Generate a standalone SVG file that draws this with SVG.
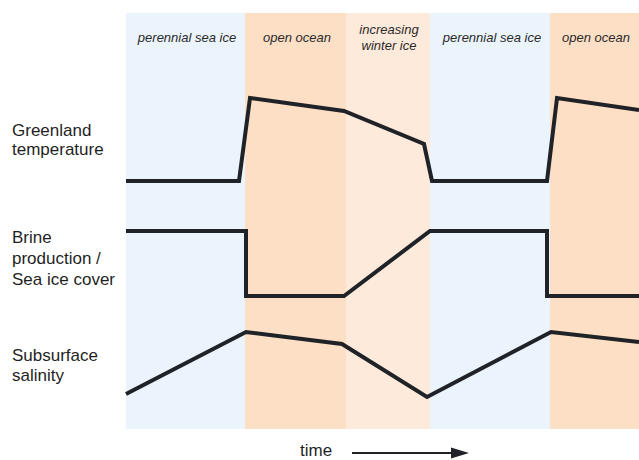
<svg xmlns="http://www.w3.org/2000/svg" width="639" height="460" viewBox="0 0 639 460">
<style>
.ice{fill:#EBF4FC}
.ocean{fill:#FDDFC6}
.winter{fill:#FEEADB}
.band{font-family:"Liberation Sans",Arial,sans-serif;font-style:italic;font-size:13px;fill:#2a2a2a;text-anchor:middle}
.lab{font-family:"Liberation Sans",Arial,sans-serif;font-size:17px;fill:#1f1f1f}
.curve{fill:none;stroke:#1f2328;stroke-width:4;stroke-linejoin:miter}
</style>
<defs>
<marker id="ah" markerWidth="18" markerHeight="12" refX="0" refY="6" orient="auto" markerUnits="userSpaceOnUse">
<polygon points="0,0.5 18,6 0,11.5" fill="#1f2328"/>
</marker>
</defs>
<rect width="639" height="460" fill="#fff"/>
<g id="bands">
<rect class="ice" x="126" y="13" width="119" height="416"/>
<rect class="ocean" x="245" y="13" width="101" height="416"/>
<rect class="winter" x="346" y="13" width="84" height="416"/>
<rect class="ice" x="430" y="13" width="120" height="416"/>
<rect class="ocean" x="550" y="13" width="89" height="416"/>
</g>
<g id="band-labels">
<text class="band" x="187" y="42">perennial sea ice</text>
<text class="band" x="297" y="42">open ocean</text>
<text class="band" x="389" y="34">increasing</text>
<text class="band" x="389" y="50">winter ice</text>
<text class="band" x="492" y="42">perennial sea ice</text>
<text class="band" x="596" y="42">open ocean</text>
</g>
<g id="row-labels">
<text class="lab" x="12" y="136">Greenland</text>
<text class="lab" x="12" y="155">temperature</text>
<text class="lab" x="12" y="243">Brine</text>
<text class="lab" x="12" y="264">production /</text>
<text class="lab" x="12" y="285">Sea ice cover</text>
<text class="lab" x="12" y="361">Subsurface</text>
<text class="lab" x="12" y="381">salinity</text>
</g>
<g id="connectors">
<polyline id="temperature" class="curve" points="126,181 239,181 250,98 344,111 424,144 432,181 547,181 557,98 639,110"/>
<polyline id="brine" class="curve" points="126,231 246,231 246,296 344,296 430,231 547,231 547,296 639,296"/>
<polyline id="salinity" class="curve" points="126,394 246,332 342,344 427,397 551,332 639,342"/>
</g>
<g id="time-axis">
<text class="lab" x="300" y="456">time</text>
<line x1="352" y1="453" x2="451" y2="453" stroke="#1f2328" stroke-width="2" marker-end="url(#ah)"/>
</g>
</svg>
